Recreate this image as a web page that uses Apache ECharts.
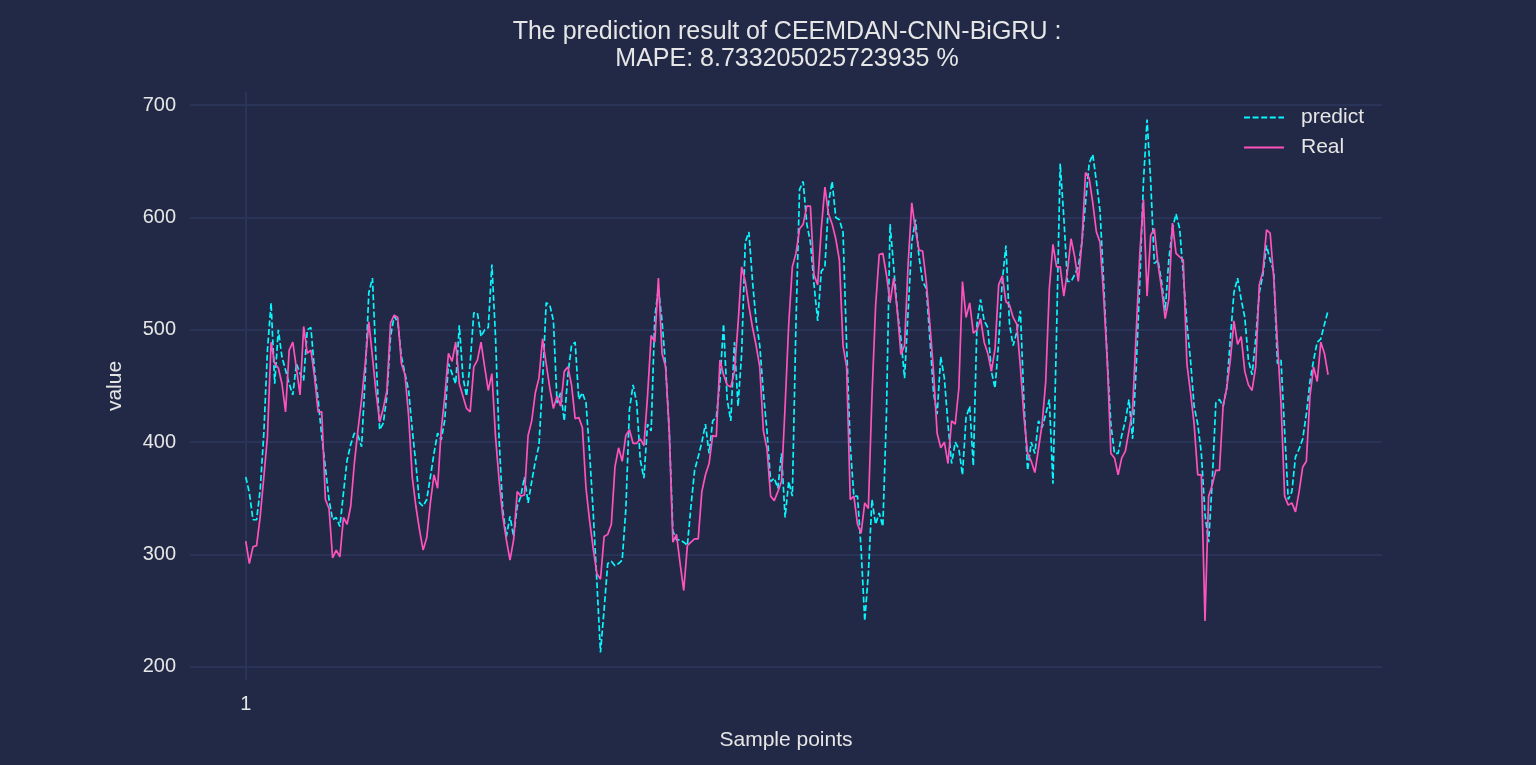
<!DOCTYPE html>
<html>
<head>
<meta charset="utf-8">
<title>CEEMDAN-CNN-BiGRU prediction</title>
<script src="https://cdn.jsdelivr.net/npm/echarts@6/dist/echarts.min.js"></script>
<style>
  html, body { margin: 0; padding: 0; background: #212946; }
  #main { width: 1536px; height: 765px; }
</style>
</head>
<body>
<div id="main"></div>
<script>
// values, one per sample point (1..300)
var predict = [
  369,355,331,331,358,408,482,524,452,500, 476,464,452,442,470,461,455,500,502,464,
  438,405,378,349,331,333,325,355,384,398, 408,406,396,458,533,546,473,411,417,441,
  494,512,507,476,461,446,411,381,346,343, 349,369,390,408,402,420,470,461,452,504,
  458,441,470,515,515,494,500,502,558,494, 402,340,316,334,316,343,352,369,346,365,
  383,397,454,524,522,508,435,444,419,460, 486,489,438,444,435,390,337,276,213,251,
  292,294,290,292,295,340,429,451,435,384, 368,416,410,511,537,508,467,410,321,313,
  313,311,308,343,375,387,400,416,390,419, 422,454,505,438,419,489,432,479,578,587,
  543,508,486,444,410,365,368,359,390,333, 365,352,505,625,632,594,578,540,508,552,
  556,613,632,600,598,587,486,397,352,352, 305,241,283,349,327,337,325,425,594,556,
  517,492,457,517,578,598,565,543,537,492, 444,425,476,457,416,381,400,394,371,422,
  432,379,505,527,508,502,463,448,489,543, 575,505,486,498,517,435,375,400,390,419,
  413,425,438,363,498,648,600,543,543,549, 556,578,613,648,656,632,606,543,473,416,
  390,390,406,419,438,403,467,543,632,687, 632,559,562,543,517,562,590,603,590,549,
  505,473,432,416,390,336,311,365,435,438, 432,448,492,533,546,527,511,473,460,492,
  533,549,575,562,552,470,473,410,349,356, 387,394,403,425,454,473,489,492,505,517
];
var real = [
  312,292,307,308,334,369,405,489,470,466, 452,427,482,489,466,442,503,479,482,458,
  427,427,349,341,297,304,298,333,327,343, 381,411,438,470,507,476,444,418,430,446,
  506,513,511,470,460,423,369,343,322,304, 315,346,371,359,411,441,479,472,489,452,
  441,430,427,467,473,489,467,446,461,405, 366,334,313,295,313,356,352,353,406,419,
  444,457,492,470,448,430,441,432,463,467, 451,421,422,413,359,330,305,283,278,316,
  318,327,378,395,383,406,411,399,399,403, 397,441,495,489,546,479,467,410,311,318,
  292,268,308,311,314,314,356,371,381,406, 405,473,460,451,449,463,505,556,543,521,
  502,486,467,410,394,352,348,356,365,432, 505,556,568,590,594,610,610,549,540,590,
  627,603,594,581,562,486,467,349,352,327, 319,346,341,441,521,567,568,549,524,546,
  517,478,486,559,613,589,571,570,543,505, 463,408,395,400,381,419,416,448,543,511,
  524,497,500,510,489,479,463,483,540,548, 525,522,511,505,467,422,390,383,373,394,
  416,454,537,576,556,556,530,552,581,565, 543,578,640,635,613,587,578,530,473,390,
  386,371,386,392,410,429,498,568,616,530, 584,590,559,537,510,527,595,568,565,562,
  470,444,416,371,371,241,352,362,375,375, 432,448,473,508,487,494,463,451,446,467,
  540,552,589,586,546,489,435,352,344,346, 338,356,378,383,441,467,454,489,479,460
];
var xTicks = [1];
var yTicks = [200, 300, 400, 500, 600, 700];
var titleLines = ['The prediction result of CEEMDAN-CNN-BiGRU :', 'MAPE: 8.733205025723935 %'];

function pairs(arr) {
  return arr.map(function (v, i) { return [i + 1, v]; });
}

var textColor = '#e6e6e6';
var gridColor = '#2A3459';
var font = "'Liberation Sans', Arial, sans-serif";

var myChart = echarts.init(document.getElementById('main'));
var option = {
  animation: false,
  backgroundColor: '#212946',
  // title lines centred over the plot area, not the whole canvas
  graphic: titleLines.map(function (t, k) {
    return {
      type: 'text',
      x: 787,
      y: 32 + k * 27,
      style: {
        text: t,
        align: 'center',
        verticalAlign: 'middle',
        fill: textColor,
        fontSize: 25,
        fontFamily: font
      }
    };
  }),
  legend: {
    orient: 'vertical',
    left: 1243,
    top: 107,
    padding: 0,
    itemWidth: 40,
    itemHeight: 20,
    itemGap: 9,
    itemStyle: { opacity: 0 },
    textStyle: { color: textColor, fontSize: 21, fontFamily: font, padding: [0, 0, 0, 12] },
    data: ['predict', 'Real']
  },
  grid: { left: 190, right: 154, top: 92, bottom: 85 },
  xAxis: {
    type: 'value',
    min: -14.4,
    max: 314.9,
    name: 'Sample points',
    nameLocation: 'middle',
    nameGap: 50,
    nameTextStyle: { color: textColor, fontSize: 21, fontFamily: font },
    axisLine: { show: false },
    axisTick: { show: false, customValues: xTicks },
    axisLabel: { customValues: xTicks, color: textColor, fontSize: 20, fontFamily: font, margin: 14 },
    splitLine: { show: true, lineStyle: { color: gridColor, width: 2 } }
  },
  yAxis: {
    type: 'value',
    min: 188.4,
    max: 711.6,
    name: 'value',
    nameLocation: 'middle',
    nameGap: 64,
    nameTextStyle: { color: textColor, fontSize: 21, fontFamily: font },
    axisLine: { show: false },
    axisTick: { show: false, customValues: yTicks },
    axisLabel: { customValues: yTicks, color: textColor, fontSize: 20, fontFamily: font, margin: 14 },
    splitLine: { show: true, lineStyle: { color: gridColor, width: 2 } }
  },
  series: [
    {
      name: 'predict',
      type: 'line',
      data: pairs(predict),
      symbol: 'none',
      color: '#08F7FE',
      lineStyle: { color: '#08F7FE', width: 1.7, type: [6, 2.6] }
    },
    {
      name: 'Real',
      type: 'line',
      data: pairs(real),
      symbol: 'none',
      color: '#FE53BB',
      lineStyle: { color: '#FE53BB', width: 1.7 }
    }
  ]
};
option && myChart.setOption(option);
</script>
</body>
</html>
